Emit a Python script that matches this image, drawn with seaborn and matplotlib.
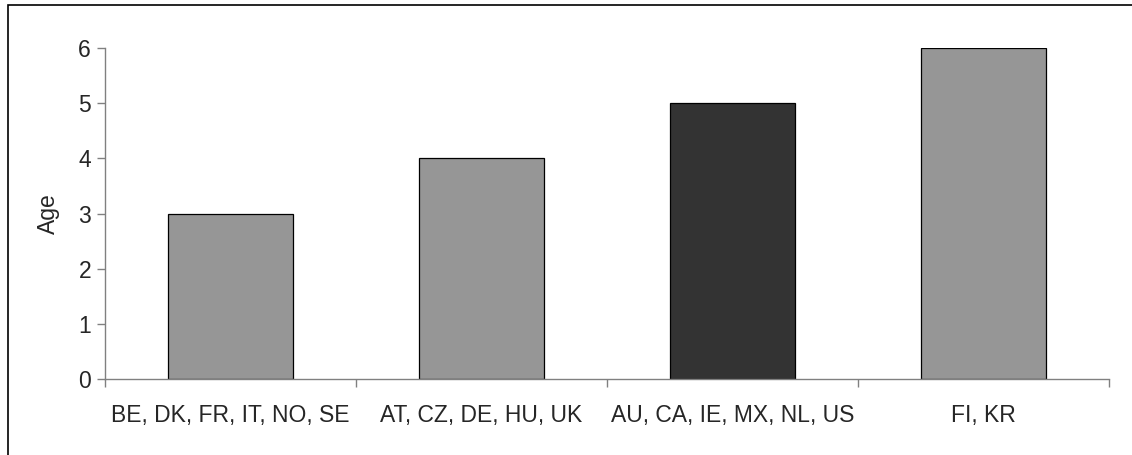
import matplotlib.pyplot as plt
import matplotlib.patches as mpatches
import pandas as pd
import seaborn as sns

# data
groups = ["BE, DK, FR, IT, NO, SE", "AT, CZ, DE, HU, UK", "AU, CA, IE, MX, NL, US", "FI, KR"]
ages = [3, 4, 5, 6]
highlight = [False, False, True, False]

GREY = "#969696"
DARK = "#333333"
AXIS = "#808080"

df = pd.DataFrame({"group": groups, "age": ages, "hl": highlight})
palette = [DARK if h else GREY for h in highlight]

sns.set_style("white")
plt.rcParams["font.family"] = ["Liberation Sans", "DejaVu Sans"]
font_size = 16.5

fig = plt.figure(figsize=(11.32, 4.55), dpi=100)
ax = fig.add_axes([105 / 1132, 1 - 379 / 455, (1109 - 105) / 1132, (379 - 48) / 455])

sns.barplot(data=df, x="group", y="age", hue="group", palette=palette, legend=False,
            width=0.5, edgecolor="black", linewidth=0.9, ax=ax)

ax.set_xlim(-0.5, len(groups) - 0.5)
ax.set_ylim(0, 6)
ax.set_yticks(range(0, 7))
ax.set_xticks([i - 0.5 for i in range(len(groups) + 1)], minor=False)
ax.set_xticklabels([])
ax.set_xticks(range(len(groups)), minor=True)
ax.set_xticklabels(groups, minor=True)
ax.tick_params(axis="x", which="major", direction="out", length=6, width=1, color=AXIS, bottom=True)
ax.tick_params(axis="x", which="minor", length=0, pad=18, labelsize=font_size)
ax.tick_params(axis="y", direction="out", length=6, width=1, color=AXIS, left=True,
               labelsize=font_size, pad=4)

for side in ["top", "right"]:
    ax.spines[side].set_visible(False)
for side in ["left", "bottom"]:
    ax.spines[side].set_color(AXIS)
    ax.spines[side].set_linewidth(1)

ax.set_xlabel("")
ax.set_ylabel("Age", fontsize=font_size, labelpad=13)

# outer frame (cut off at right and bottom like the source)
fig.patches.append(mpatches.Rectangle((8 / 1132, -0.1), 1.2, 1 - 5 / 455 + 0.1,
                                      transform=fig.transFigure, fill=False,
                                      edgecolor="black", linewidth=1.2))

fig.savefig("out.png", dpi=100)
